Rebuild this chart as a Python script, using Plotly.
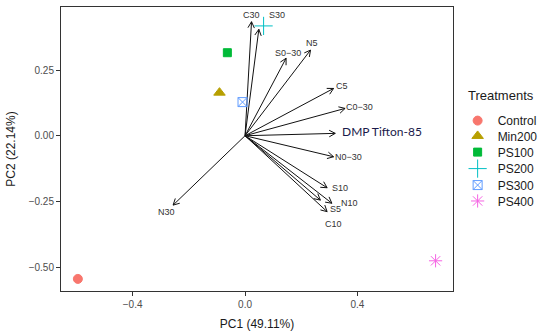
import math
import plotly.graph_objects as go

# Scores (treatments)
treatments = ["Control", "Min200", "PS100", "PS200", "PS300", "PS400"]
pc1_scores = [-0.595, -0.091, -0.063, 0.066, -0.009, 0.678]
pc2_scores = [-0.545, 0.164, 0.316, 0.418, 0.128, -0.476]
colors = ["#F8766D", "#B79F00", "#00BA38", "#00BFC4", "#619CFF", "#F564E3"]
symbols = ["circle", "triangle-up", "square", "cross-thin-open", "square-x-open", "asterisk-open"]
sizes = [9, 10, 8, 13, 9, 11]

# Loadings (variables)
variables = ["C30", "S30", "S0\u221230", "N5", "C5", "C0\u221230", "DMP Tifton-85",
             "N0\u221230", "S10", "N10", "S5", "C10", "N30"]
load_pc1 = [0.023, 0.049, 0.146, 0.233, 0.315, 0.356, 0.321, 0.315, 0.292, 0.309, 0.268, 0.292, -0.256]
load_pc2 = [0.434, 0.405, 0.295, 0.326, 0.180, 0.104, 0.009, -0.080, -0.198, -0.257, -0.245, -0.289, -0.264]
label_pc1 = [0.023, 0.112, 0.153, 0.239, 0.344, 0.406, 0.489, 0.367, 0.338, 0.373, 0.321, 0.315, -0.280]
label_pc2 = [0.459, 0.459, 0.314, 0.352, 0.190, 0.109, 0.015, -0.082, -0.198, -0.257, -0.279, -0.336, -0.292]

x_ticks = [-0.4, 0.0, 0.4]
x_ticklabels = ["\u22120.4", "0.0", "0.4"]
y_ticks = [-0.50, -0.25, 0.00, 0.25]
y_ticklabels = ["\u22120.50", "\u22120.25", "0.00", "0.25"]

W, H = 550, 334
ML, MR, MT, MB = 61, 90, 7, 43
XR = [-0.655, 0.740]
YR = [-0.591, 0.49]
px_x = (W - ML - MR) / (XR[1] - XR[0])
px_y = (H - MT - MB) / (YR[1] - YR[0])

fig = go.Figure()

# Loading arrows: shafts + open arrowheads computed from loadings
ax_x, ax_y = [], []
head_len, head_ang = 7.0, math.radians(28)
for x, y in zip(load_pc1, load_pc2):
    ax_x += [0, x, None]
    ax_y += [0, y, None]
    ang = math.atan2(y * px_y, x * px_x)
    for s in (1, -1):
        a = ang + math.pi + s * head_ang
        hx = x + head_len * math.cos(a) / px_x
        hy = y + head_len * math.sin(a) / px_y
        ax_x += [x, hx, None]
        ax_y += [y, hy, None]
fig.add_trace(go.Scatter(x=ax_x, y=ax_y, mode="lines", line=dict(color="#111111", width=1),
                         showlegend=False, hoverinfo="skip"))

legend_y = [0.600, 0.546, 0.489, 0.431, 0.373, 0.317]
legend_names = ["legend", "legend2", "legend3", "legend4", "legend5", "legend6"]

for i, (name, x, y, c, s, sz) in enumerate(zip(treatments, pc1_scores, pc2_scores, colors, symbols, sizes)):
    fig.add_trace(go.Scatter(
        x=[x], y=[y], mode="markers", name=name, legend=legend_names[i],
        marker=dict(color=c, symbol=s, size=sz, line=dict(color=c, width=1)),
    ))

annotations = []
for v, lx, ly in zip(variables, label_pc1, label_pc2):
    if v.startswith("DMP"):
        font = dict(family="Lato, Open Sans, sans-serif", size=12, color="#1a1a4a")
    else:
        font = dict(family="Liberation Sans, Arial, sans-serif", size=9, color="#333333")
    annotations.append(dict(x=lx, y=ly, xref="x", yref="y", text=v, showarrow=False, font=font))

annotations.append(dict(x=1.0327, y=0.690, xref="paper", yref="paper", xanchor="left", yanchor="middle",
                        text="Treatments", showarrow=False,
                        font=dict(family="Liberation Sans, Arial, sans-serif", size=13, color="#1a1a1a")))

layout_legends = {}
for i, ln in enumerate(legend_names):
    layout_legends[ln] = dict(
        font=dict(size=12, color="#1a1a1a", family="Liberation Sans, Arial, sans-serif"),
        x=1.0118, xanchor="left", y=legend_y[i], yanchor="middle",
        itemwidth=30, bgcolor="rgba(0,0,0,0)", borderwidth=0,
    )

fig.update_layout(
    width=W, height=H,
    margin=dict(l=ML, r=MR, t=MT, b=MB),
    paper_bgcolor="white", plot_bgcolor="white",
    font=dict(family="Liberation Sans, Arial, sans-serif", color="#1a1a1a"),
    annotations=annotations,
    showlegend=True,
    xaxis=dict(
        range=XR, showgrid=False, zeroline=False, automargin=False,
        showline=True, linecolor="#333333", linewidth=1, mirror=True,
        ticks="outside", ticklen=4, tickcolor="#333333",
        tickvals=x_ticks, ticktext=x_ticklabels,
        tickfont=dict(size=10, color="#4d4d4d"),
        title=dict(text="PC1 (49.11%)", font=dict(size=12, color="#1a1a1a"), standoff=10),
    ),
    yaxis=dict(
        range=YR, showgrid=False, zeroline=False, automargin=False,
        showline=True, linecolor="#333333", linewidth=1, mirror=True,
        ticks="outside", ticklen=4, tickcolor="#333333",
        tickvals=y_ticks, ticktext=y_ticklabels,
        tickfont=dict(size=10, color="#4d4d4d"),
        title=dict(text="PC2 (22.14%)", font=dict(size=12, color="#1a1a1a"), standoff=10),
    ),
    **layout_legends,
)

fig.write_html("out.html", config={"displayModeBar": False},
               post_script="document.body.style.margin='0';")
